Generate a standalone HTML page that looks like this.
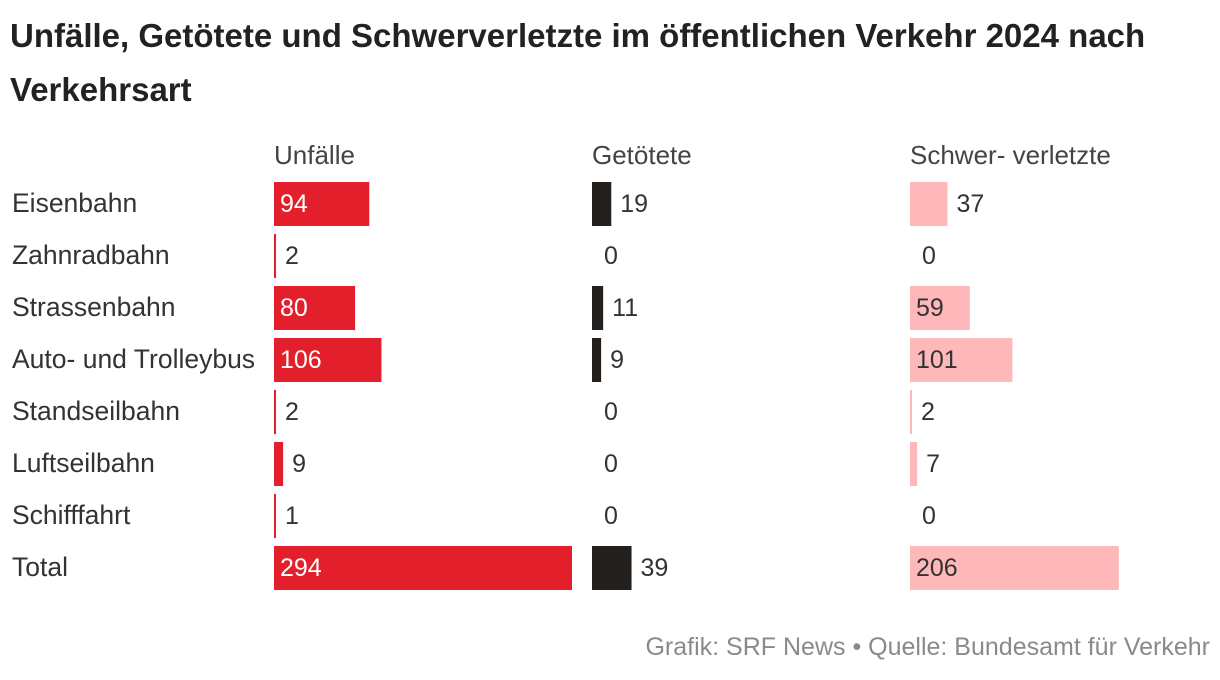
<!DOCTYPE html>
<html><head><meta charset="utf-8"><style>
body{margin:0;width:1220px;height:680px;background:#fff;font-family:"Liberation Sans",sans-serif;color:#333;overflow:hidden}
#title{position:absolute;left:10px;top:9px;width:1210px;font-size:33px;font-weight:bold;line-height:54px;color:#222;white-space:nowrap}
svg{position:absolute;left:0;top:0}
#foot{position:absolute;right:10px;top:633px;font-size:25px;color:#8a8a8a}
</style></head><body>
<div id="title">Unfälle, Getötete und Schwerverletzte im öffentlichen Verkehr 2024 nach<br>Verkehrsart</div>
<svg id="chart" width="1220" height="680"></svg>
<div id="foot">Grafik: SRF News • Quelle: Bundesamt für Verkehr</div>
<script>
const categories=["Eisenbahn","Zahnradbahn","Strassenbahn","Auto- und Trolleybus","Standseilbahn","Luftseilbahn","Schifffahrt","Total"];
const seriesNames=["Unfälle","Getötete","Schwer- verletzte"];
const unfaelle=[94,2,80,106,2,9,1,294];
const getoetete=[19,0,11,9,0,0,0,39];
const schwer=[37,0,59,101,2,7,0,206];
const series=[unfaelle,getoetete,schwer];
const colors=["#e31f2b","#23201d","#ffb8ba"];
const innerText=["#fff","#fff","#333"];
const colX=[274,592,910];
const scale=298/294;
const x=v=>v*scale;
const y=i=>182+i*52;
const svg=document.getElementById('chart');
const NS="http://www.w3.org/2000/svg";
function txt(s,xx,yy,fill,name,fs){const t=document.createElementNS(NS,'text');t.setAttribute('x',xx);t.setAttribute('y',yy);t.setAttribute('fill',fill);t.setAttribute('font-size',fs||'25');t.setAttribute('font-family','Liberation Sans, sans-serif');t.textContent=s;


svg.appendChild(t);return t;}
seriesNames.forEach((n,k)=>txt(n,colX[k],164,'#444','column-header','26'));
categories.forEach((c,i)=>{
  txt(c,12,y(i)+30,'#333','row-label','26.5');
  series.forEach((s,k)=>{
    const v=s[i];
    if(v>0){
      const w=Math.max(2,x(v));
      const r=document.createElementNS(NS,'rect');
      r.setAttribute('x',colX[k]);r.setAttribute('y',y(i));r.setAttribute('width',w);r.setAttribute('height',44);r.setAttribute('fill',colors[k]);
      
      
      svg.appendChild(r);
      if(w>50) txt(String(v),colX[k]+6,y(i)+30,innerText[k],'value-label');
      else txt(String(v),colX[k]+w+9,y(i)+30,'#333','value-label');
    } else txt('0',colX[k]+12,y(i)+30,'#333','value-label');
  });
});
</script>
</body></html>
